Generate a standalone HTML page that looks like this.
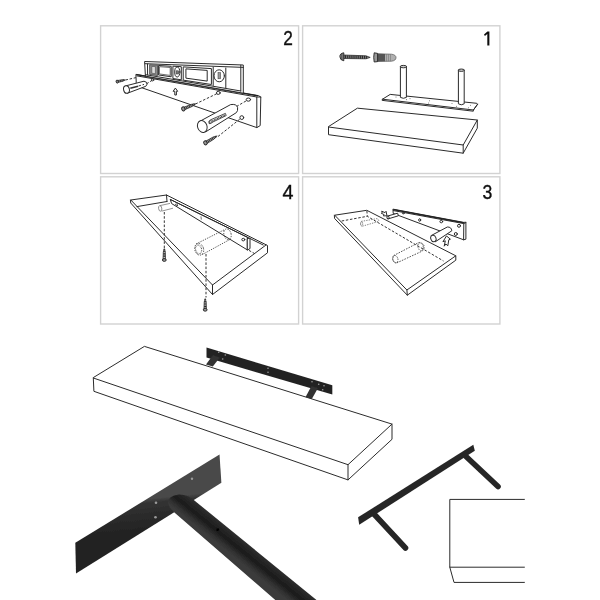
<!DOCTYPE html>
<html><head><meta charset="utf-8">
<style>
html,body{margin:0;padding:0;background:#fff;}
body{width:600px;height:600px;overflow:hidden;font-family:"Liberation Sans",sans-serif;}
svg{display:block;position:absolute;left:0;top:0;}
.num{font-family:"Liberation Sans",sans-serif;font-size:20px;fill:#111;}
.l{fill:none;stroke:#2b2b2b;stroke-width:1;stroke-linecap:round;stroke-linejoin:round;}
.lw{fill:#fff;stroke:#2b2b2b;stroke-width:1;stroke-linecap:round;stroke-linejoin:round;}
.d{fill:none;stroke:#333;stroke-width:1;stroke-dasharray:2.5 1.7;}
.t{fill:none;stroke:#333;stroke-width:0.7;stroke-linecap:round;stroke-linejoin:round;}
</style></head><body>
<svg width="600" height="600" viewBox="0 0 600 600">
<defs><filter id="soft" x="-2%" y="-2%" width="104%" height="104%"><feGaussianBlur stdDeviation="0.38"/></filter></defs>
<rect x="0" y="0" width="600" height="600" fill="#fff"/>
<g filter="url(#soft)">
<!-- PANELS -->
<g fill="#fff" stroke="#d2d2d2" stroke-width="1.4">
<rect x="100.6" y="25.8" width="198" height="147.7"/>
<rect x="302.6" y="25.8" width="197.3" height="147.7"/>
<rect x="100.6" y="176.8" width="198" height="147.2"/>
<rect x="302.6" y="176.8" width="197.3" height="147.2"/>
</g>
<g class="num" stroke="#111" stroke-width="0.35">
<text x="283.2" y="45.3" textLength="9.6" lengthAdjust="spacingAndGlyphs">2</text>
<path d="M484,34.4 L487.4,31.4 L489.4,31.4 L489.4,45.6 L487.3,45.6 L487.3,33.9 L484.9,35.9 Z" stroke="none"/>
<text x="282.6" y="198.9" textLength="11" lengthAdjust="spacingAndGlyphs">4</text>
<text x="482.4" y="199.3" textLength="9.8" lengthAdjust="spacingAndGlyphs">3</text>
</g>
<!-- P2 -->
<g id="p2">
<polygon class="lw" points="136.3,74.4 258.3,95.6 260.8,97 260.2,125.6 256.8,127.6 140.2,87.2 136.5,83"/>
<polyline class="l" points="137,75.9 256.8,97 256.8,127.6"/>
<line class="l" x1="256.8" y1="97" x2="260.8" y2="97"/>
<line x1="136.3" y1="74.7" x2="258" y2="95.8" stroke="#222" stroke-width="1.2"/>
<polygon class="lw" points="145,61.5 243.3,65 243.3,93.2 145.8,76.2"/>
<line class="l" x1="145.2" y1="63.7" x2="243.3" y2="67.4"/>
<line class="l" x1="145.7" y1="74.7" x2="240.8" y2="91"/>
<line class="l" x1="240.8" y1="65.2" x2="240.8" y2="91"/>
<line class="l" x1="147.5" y1="64" x2="147.6" y2="74.9"/>
<polygon points="149.6,64.7 157.6,65.2 157.6,75.6 149.6,74.4" fill="#8c8c8c" stroke="#333" stroke-width="0.7"/>
<polygon points="151.8,66.4 155.4,66.7 155.4,73.7 151.8,73.2" fill="#ddd" stroke="#333" stroke-width="0.5"/>
<polygon class="l" points="158.8,65.5 171.2,66.3 171.2,76.8 158.8,75.0"/>
<polygon class="t" points="159.8,66.7 170.2,67.5 170.2,75.4 159.8,74.0"/>
<polygon class="l" points="173.3,66.2 181.3,66.7 181.3,79.8 173.3,78.6"/>
<ellipse cx="177.3" cy="72" rx="2.6" ry="5" class="l" stroke-width="0.8"/>
<rect x="176.1" y="70.8" width="2.6" height="3.2" fill="#777" stroke="#333" stroke-width="0.5"/>
<polygon class="l" points="183.6,66.9 211.4,68.6 211.4,84.5 183.6,80.2"/>
<polygon class="l" points="186.3,68.9 207.2,70.4 207.2,81.1 186.3,78.2"/>
<line class="l" x1="213.2" y1="67.3" x2="213.2" y2="85.5"/>
<ellipse cx="219.2" cy="75.8" rx="5.2" ry="6" class="l"/>
<rect x="218" y="72.6" width="2.6" height="6.2" fill="#999" stroke="#333" stroke-width="0.5"/>
<line class="l" x1="225.8" y1="68.0" x2="225.8" y2="87.6"/>
<ellipse cx="218.3" cy="92.9" rx="1.9" ry="1.5" class="lw"/>
<ellipse cx="248.4" cy="99.6" rx="2.2" ry="1.6" class="lw"/>
<ellipse cx="241.8" cy="117.6" rx="1.9" ry="1.9" class="lw"/>
<ellipse cx="152.6" cy="79.9" rx="1.2" ry="1" class="lw"/>
<path class="l" d="M175.6,88.4 L177.7,91.3 L176.4,91.3 L176.4,95 L174.8,95 L174.8,91.3 L173.5,91.3 Z" stroke-width="0.8"/>
<line class="d" x1="125.5" y1="80" x2="136" y2="77.6"/>
<line class="d" x1="146.5" y1="83.8" x2="152" y2="80.4"/>
<line class="d" x1="195.5" y1="104" x2="217" y2="93.6"/>
<line class="d" x1="236.5" y1="106.5" x2="247" y2="100.4"/>
<line class="d" x1="218" y1="136.5" x2="240.5" y2="118.6"/>
<polygon points="117.4,82.6 123.0,81.2 125.3,79.9 122.7,79.6 117.0,80.6" fill="#aaa" stroke="#222" stroke-width="0.7"/><line x1="118.4" y1="81.4" x2="124.7" y2="80.0" stroke="#222" stroke-width="1.6" stroke-dasharray="0.8 0.9"/><ellipse cx="117.2" cy="81.6" rx="1.1" ry="1.5" transform="rotate(-11.9 117.2 81.6)" fill="#999" stroke="#222" stroke-width="0.9"/>
<polygon points="183.8,110.2 192.3,106.4 195.6,103.8 191.5,104.3 182.8,107.6" fill="#aaa" stroke="#222" stroke-width="0.7"/><line x1="184.4" y1="108.4" x2="194.6" y2="104.2" stroke="#222" stroke-width="2.2" stroke-dasharray="0.8 0.9"/><ellipse cx="183.3" cy="108.9" rx="1.6" ry="2.1" transform="rotate(-22.5 183.3 108.9)" fill="#999" stroke="#222" stroke-width="0.9"/>
<polygon points="206.1,144.1 214.2,139.0 217.2,135.9 213.1,137.0 204.7,141.7" fill="#aaa" stroke="#222" stroke-width="0.7"/><line x1="206.4" y1="142.3" x2="216.3" y2="136.5" stroke="#222" stroke-width="2.2" stroke-dasharray="0.8 0.9"/><ellipse cx="205.4" cy="142.9" rx="1.6" ry="2.1" transform="rotate(-30.7 205.4 142.9)" fill="#999" stroke="#222" stroke-width="0.9"/>
<path class="lw" d="M126,85.8 L144,81.2 Q147.4,81.8 147,84.2 Q146.8,86 145,86.6 L127.5,93.2 Z"/>
<ellipse cx="126.5" cy="89.5" rx="2.9" ry="3.8" class="lw" transform="rotate(-12 126.5 89.5)"/>
<line x1="130.3" y1="88.3" x2="138" y2="86.2" stroke="#333" stroke-width="1.6"/>
<line class="d" x1="138.5" y1="86" x2="144" y2="84.4"/>
<path class="lw" d="M199.3,121.6 L230.6,104.6 Q236.6,103.6 237.6,107.6 Q238,111 236.4,112.6 L205.8,131.8 Z"/>
<ellipse cx="202.3" cy="126.5" rx="4.7" ry="6.1" class="lw" stroke-width="1.15" transform="rotate(-20 202.3 126.5)"/>
<path d="M209,123.5 Q208,120.8 210.6,119.8 L225.4,113.4 L226.2,115.6 L211.6,122.6 Q209.8,124.4 209,123.5Z" fill="#fff" stroke="#222" stroke-width="0.8"/>
<line x1="212.5" y1="120.8" x2="224.8" y2="115.2" stroke="#333" stroke-width="1.5" stroke-dasharray="1 0.6"/>
<circle cx="210.8" cy="121.9" r="1.3" fill="#fff" stroke="#222" stroke-width="0.8"/>
</g>
<!-- P1 -->
<g id="p1">
<path d="M343.6,55 L366,55.8 L370.2,57.4 L366,58.8 L343.6,58.5 Z" fill="#808080" stroke="#222" stroke-width="0.7"/>
<line x1="345" y1="56.8" x2="367.5" y2="57.4" stroke="#222" stroke-width="2.9" stroke-dasharray="0.9 1.0"/>
<path d="M343.8,52.8 Q339.6,53.4 339.9,56.8 Q340,60.2 343.8,60.8 Z" fill="#888" stroke="#222" stroke-width="0.9"/>
<line x1="341.8" y1="54" x2="341.8" y2="59.8" stroke="#333" stroke-width="0.7"/>
<path d="M377.4,53.8 L391.5,54.2 Q396,54.8 396,57.6 Q396,60.6 391.5,61.2 L377.4,61.4 Z" fill="#b0b0b0" stroke="#555" stroke-width="0.7"/>
<path d="M377.4,53.8 L385,54 L385,61.3 L377.4,61.4Z" fill="#555"/>
<g stroke="#777" stroke-width="0.6"><line x1="386.5" y1="54.2" x2="386.5" y2="61.2"/><line x1="388.5" y1="54.2" x2="388.5" y2="61.2"/><line x1="390.5" y1="54.3" x2="390.5" y2="61.2"/></g>
<path d="M374.2,52.8 L377.6,53.4 L377.6,61.6 L374.2,62 Q373.2,57.4 374.2,52.8Z" fill="#999" stroke="#222" stroke-width="0.9"/>
<polygon class="lw" points="382.5,99.2 390.2,94.4 476.8,103.3 477.6,104.2 473.4,110 473.3,111.2 382.5,100.4"/>
<polyline class="l" points="382.5,99.2 473.4,110 477.6,104.2"/>
<g fill="#777"><circle cx="396" cy="97" r="0.55"/><circle cx="406.5" cy="99.6" r="0.55"/><circle cx="410" cy="98.6" r="0.55"/><circle cx="429.5" cy="100.8" r="0.55"/><circle cx="428.5" cy="103" r="0.55"/><circle cx="452" cy="103.5" r="0.55"/><circle cx="456.5" cy="106.2" r="0.55"/><circle cx="470.5" cy="105.2" r="0.55"/><circle cx="468.5" cy="107.8" r="0.55"/></g>
<path class="lw" d="M400.4,66.6 L400.4,97.4 Q403.4,99.2 406.4,97.4 L406.4,66.6 Z"/>
<ellipse cx="403.4" cy="66.6" rx="3" ry="1.2" fill="#ccc" stroke="#222" stroke-width="0.9"/>
<path class="lw" d="M458.4,70.2 L458.4,103.8 Q461.3,105.8 464.2,103.8 L464.2,70.2 Z"/>
<ellipse cx="461.3" cy="70.2" rx="2.9" ry="1.2" fill="#ccc" stroke="#222" stroke-width="0.9"/>
<polygon class="lw" points="357.8,108.2 477.3,120 477.3,128.2 463.2,153.2 328.5,134.7 328.5,127"/>
<polyline class="l" points="328.5,127 463.2,145 477.3,120"/>
<line class="l" x1="463.2" y1="145" x2="463.2" y2="153.2"/>
</g>
<!-- P4 -->
<g id="p4">
<polygon class="lw" points="130.8,200 166.5,195 267.5,245.5 267.5,252.8 212.5,294.5 131,203.3"/>
<polyline class="l" points="130.8,200 212.5,285 266,245"/>
<line class="l" x1="212.5" y1="285" x2="212.5" y2="294.5"/>
<line class="l" x1="166.5" y1="195" x2="167" y2="201.5"/>
<line class="l" x1="137" y1="206.6" x2="167" y2="201.5"/>

<polygon class="lw" points="170.6,199.6 247.5,237.3 247.5,250 172,203.8"/>
<line class="l" x1="170.6" y1="199.6" x2="263.2" y2="245"/>
<polygon class="lw" points="247.5,238.5 250,238.2 250,248.6 247.5,250"/>
<ellipse cx="243.3" cy="239.6" rx="1.5" ry="1.3" class="lw"/>
<ellipse cx="176.6" cy="204.8" rx="1.2" ry="0.8" transform="rotate(30 176.6 204.8)" class="t"/>
<line class="t" x1="201" y1="216.8" x2="201.3" y2="219.2"/>
<line class="d" x1="249" y1="250.4" x2="255" y2="253.8" stroke="#777"/>
<g fill="none" stroke="#777" stroke-width="0.8"><ellipse cx="160.2" cy="208.4" rx="1.6" ry="2.8" transform="rotate(-10 160.2 208.4)"/><line x1="160" y1="205.6" x2="170" y2="203.4"/><line x1="161.5" y1="211.2" x2="173" y2="208.2"/></g>
<line class="d" x1="164.3" y1="212" x2="164.3" y2="248.5"/>
<polygon points="165.6,260.0 165.3,252.0 164.3,248.6 163.3,252.0 163.0,260.0" fill="#bbb" stroke="#222" stroke-width="0.7"/><line x1="164.3" y1="258.8" x2="164.3" y2="249.5" stroke="#222" stroke-width="2.1" stroke-dasharray="0.8 0.9"/><ellipse cx="164.3" cy="260.0" rx="1.4" ry="1.9" transform="rotate(-90.0 164.3 260.0)" fill="#999" stroke="#222" stroke-width="0.9"/>
<g fill="none" stroke="#444" stroke-width="0.9" stroke-dasharray="1.3 1.2"><ellipse cx="199.2" cy="249.3" rx="4.4" ry="5.9" transform="rotate(-15 199.2 249.3)"/><ellipse cx="227.5" cy="234.3" rx="3.6" ry="5.5" transform="rotate(-15 227.5 234.3)"/><line x1="196" y1="244" x2="225" y2="229.4"/><line x1="202.2" y1="254.6" x2="230" y2="239.4"/></g>
<ellipse cx="198.6" cy="249.3" rx="3" ry="4.4" transform="rotate(-15 198.6 249.3)" fill="none" stroke="#555" stroke-width="1.1" stroke-dasharray="0.7 0.8"/>
<line class="d" x1="206" y1="254" x2="206" y2="297.5"/>
<polygon points="206.5,309.8 206.2,302.0 205.2,298.6 204.2,302.0 203.9,309.8" fill="#bbb" stroke="#222" stroke-width="0.7"/><line x1="205.2" y1="308.6" x2="205.2" y2="299.5" stroke="#222" stroke-width="2.1" stroke-dasharray="0.8 0.9"/><ellipse cx="205.2" cy="309.8" rx="1.4" ry="1.9" transform="rotate(-90.0 205.2 309.8)" fill="#999" stroke="#222" stroke-width="0.9"/>
</g>
<!-- P3 -->
<g id="p3">
<polygon class="lw" points="393.3,209.2 463.8,222.4 465.9,222.2 465.9,239.2 463.6,239.8 393.6,213.6"/>
<polyline class="l" points="393.4,210.6 463.8,223.6 463.6,239.8"/>
<line class="l" x1="463.8" y1="223.6" x2="465.9" y2="222.6"/>
<line x1="393.3" y1="209.6" x2="464" y2="222.8" stroke="#222" stroke-width="1.3"/>
<ellipse cx="403.3" cy="213.2" rx="0.9" ry="0.7" class="lw" stroke-width="0.8"/>
<ellipse cx="419.7" cy="220" rx="1" ry="1.3" class="lw" stroke-width="0.8"/>
<ellipse cx="441.3" cy="221.6" rx="1.4" ry="1.2" class="lw" stroke-width="0.8"/>
<ellipse cx="459" cy="225.8" rx="1.5" ry="1.5" class="lw" stroke-width="0.8"/>
<ellipse cx="455.8" cy="234" rx="1.5" ry="1.5" class="lw" stroke-width="0.8"/>
<polygon class="lw" points="334.7,215.2 366.8,210.3 455.8,255.8 455.8,260.2 407.3,295.2 334.9,218.8"/>
<polyline class="l" points="334.7,215.2 406.9,290 455.8,255.8"/>
<line class="l" x1="406.9" y1="290" x2="407.3" y2="295.2"/>
<polyline class="d" points="341.7,221 367.3,216.3 443.5,261"/>
<line class="d" x1="366.9" y1="211" x2="367.3" y2="216.3"/>
<path d="M361.3,221.4 L377,218.6 Q379.2,219.6 378.6,221.4 L362.4,226.2 Q359.6,225.4 361.3,221.4Z" fill="none" stroke="#666" stroke-width="0.8" stroke-dasharray="1.4 1.1"/>
<ellipse cx="361.6" cy="223.8" rx="1.1" ry="2.3" fill="none" stroke="#666" stroke-width="0.7" stroke-dasharray="1.2 1"/>
<path d="M393.6,255.6 L419,242.4 Q423.6,243 424.2,246.6 Q424.2,249.6 422,251.2 L397,262.8 Q391.2,262.2 393.6,255.6Z" fill="none" stroke="#444" stroke-width="0.9" stroke-dasharray="1.6 1.2"/>
<ellipse cx="395.3" cy="259.2" rx="2.6" ry="3.8" transform="rotate(-15 395.3 259.2)" fill="none" stroke="#444" stroke-width="0.8" stroke-dasharray="1.4 1.1"/>
<ellipse cx="420.6" cy="246.8" rx="2.6" ry="4" transform="rotate(-15 420.6 246.8)" fill="none" stroke="#444" stroke-width="0.8" stroke-dasharray="1.4 1.1"/>
<path class="lw" d="M387.8,216 L397.6,213.2 L398.4,215.8 L388.4,218.8 Z"/>
<ellipse cx="388" cy="217.4" rx="1.1" ry="1.5" class="lw" transform="rotate(-15 388 217.4)"/>
<path class="lw" d="M431.5,235.4 L447.3,227 Q451.4,226.8 451.8,230.8 L435.6,241.6 Z"/>
<ellipse cx="433.4" cy="238.5" rx="2.6" ry="3.3" transform="rotate(-20 433.4 238.5)" class="lw"/>
<path d="M386.6,215.8 L383.4,215.9 L384.1,214.6 L381.2,213.2 L382.4,212.4 L381.6,211.2 L385,212.6 L385.8,211.6 Z" class="lw" stroke-width="0.8"/>
<path d="M446.8,236.2 L450.4,239.2 L448.8,239.8 L447.8,245.8 L445.9,244 L444.2,246.2 L445.3,240.8 L443.3,241.6 Z" class="lw" stroke-width="0.8"/>
</g>
<!-- BIGSHELF -->
<g id="big">
<!-- bracket behind shelf -->
<polygon points="206.5,347.6 332.3,385.2 332.3,394.4 206.5,357.6" fill="#242424"/>
<polygon points="213,355 219.8,357.5 212.8,366.5 206,364.5" fill="#303030"/>
<polygon points="311.5,386 318,388 311.5,399.5 305.3,397.5" fill="#303030"/>
<g fill="#9a9a9a">
<circle cx="218.7" cy="352.3" r="0.8"/><circle cx="225.3" cy="355" r="0.8"/><circle cx="222.7" cy="359" r="0.8"/>
<circle cx="268" cy="368.3" r="0.8"/><circle cx="268" cy="372.3" r="0.8"/>
<circle cx="312" cy="381.7" r="0.8"/><circle cx="318.7" cy="384.3" r="0.8"/><circle cx="324" cy="385.7" r="0.8"/><circle cx="322.7" cy="389.7" r="0.8"/>
</g>
<!-- shelf -->
<polygon class="lw" stroke-width="1.25" points="144.8,346.5 392,424.1 392,439.3 348,479.9 93.9,391.3 93.3,378"/>
<polyline class="l" stroke-width="1.25" points="93.3,378 348,464.7 392,424.1"/>
<line class="l" stroke-width="1.25" x1="348" y1="464.7" x2="348" y2="479.9"/>
</g>
<!-- BRACKET-L -->
<g id="bl">
<defs>
<linearGradient id="pegg" gradientUnits="userSpaceOnUse" x1="258.2" y1="542.9" x2="241.8" y2="563.1">
<stop offset="0" stop-color="#484848"/><stop offset="0.18" stop-color="#363636"/><stop offset="0.42" stop-color="#262626"/><stop offset="0.65" stop-color="#1b1b1b"/><stop offset="0.86" stop-color="#303030"/><stop offset="1" stop-color="#3a3a3a"/>
</linearGradient>
<linearGradient id="plg" gradientUnits="userSpaceOnUse" x1="147" y1="499" x2="150" y2="528">
<stop offset="0" stop-color="#484848"/><stop offset="0.14" stop-color="#333"/><stop offset="0.6" stop-color="#2a2a2a"/><stop offset="1" stop-color="#242424"/>
</linearGradient>
</defs>
<polygon points="75.3,542.8 219.5,454.6 221.4,482.8 76,573.6" fill="url(#plg)"/>
<!-- peg -->
<path d="M174.7,512.7 L275.3,600 L316.5,600 L194.7,500.7 Q188,494.3 179,494.5 Q167.5,496 168,503 Q169,508 174.7,512.7 Z" fill="url(#pegg)"/>
<g fill="#9a9a9a">
<circle cx="156" cy="502.7" r="1.3"/><circle cx="155.5" cy="517.3" r="1.3"/><circle cx="192" cy="478.7" r="1.2"/>
</g>
<circle cx="217.6" cy="529.6" r="1.5" fill="#050505"/>
</g>
<!-- BRACKET-R -->
<g id="br">
<polygon points="358.1,517.3 473.3,444.8 474.8,450.8 359.2,524.8" fill="#262626"/>
<line x1="373.5" y1="513.5" x2="405.5" y2="548" stroke="#262626" stroke-width="5.6" stroke-linecap="round"/>
<line x1="465.5" y1="456" x2="498" y2="486.5" stroke="#262626" stroke-width="5.6" stroke-linecap="round"/>
</g>
<!-- CORNER -->
<g id="corner">
<polyline class="l" points="524.4,499.4 449.8,499.4 449.8,567.2 524.4,567.2"/>
<polyline class="l" points="449.8,567.2 454,582.4 524.4,582.4"/>
</g>
</g>
</svg>
</body></html>
